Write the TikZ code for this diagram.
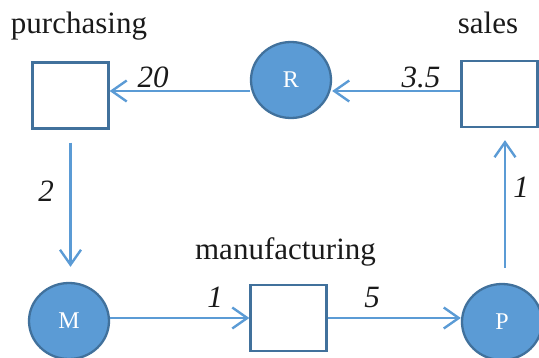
\documentclass[tikz,border=0pt]{standalone}
\usepackage{fontspec}
\setmainfont{Liberation Serif}
\newfontfamily\numfont{LiberationSerif-Italic.ttf}
\usetikzlibrary{arrows.meta,shapes.geometric}
\definecolor{fillb}{HTML}{5B9BD5}
\definecolor{edgeb}{HTML}{41719C}
\definecolor{txt}{HTML}{1A1A1A}
\begin{document}
\begin{tikzpicture}[x=1pt,y=-1pt,
 box/.style={draw=edgeb,line width=2.3pt,minimum width=76pt,minimum height=66pt,inner sep=0pt,fill=white},
 proc/.style={ellipse,draw=edgeb,fill=fillb,line width=2.3pt,minimum width=80pt,minimum height=76pt,inner sep=0pt,text=white,font=\fontsize{24}{24}\selectfont},
 flow/.style={draw=fillb,line width=2.4pt,-{Straight Barb[length=15pt,width=21pt,line width=2.4pt]}},
 lab/.style={anchor=base,text=txt,inner sep=0pt,font=\fontsize{31}{31}\selectfont},
 num/.style={anchor=base,text=txt,inner sep=0pt,font=\fontsize{31}{31}\numfont}]
\useasboundingbox (0,0) rectangle (539,358);
% nodes
\node[box] (purch) at (70.5,95.5) {};
\node[box] (sales) at (499.5,94) {};
\node[box] (mfg) at (288.5,318) {};
\node[proc] (R) at (291,80) {R};
\node[proc] (M) at (69,321) {M};
\node[proc] (P) at (502,322) {P};
% titles
\node[lab] (tp) at (79,34) {purchasing};
\node[lab] (ts) at (488,34) {sales};
\node[lab] (tm) at (285.5,260) {manufacturing};
% connectors
\draw[flow] (sales.west |- 0,91) -- (R.east |- 0,91);
\draw[flow] (R.west |- 0,91) -- (purch.east |- 0,91);
\draw[flow,shorten <=13pt,shorten >=15pt] (purch.south) -- (purch.south |- M.north);
\draw[flow] (M.east |- mfg.west) -- (mfg.west);
\draw[flow] (mfg.east) -- (P.west |- mfg.east);
\draw[flow,shorten <=15pt,shorten >=12pt] ([xshift=3pt]P.north) -- ([xshift=3pt]P.north |- sales.south);
% flow values
\node[num] (n20) at (153,88) {20};
\node[num] (n35) at (421,88) {3.5};
\node[num] (n2) at (46,202) {2};
\node[num] (n1r) at (521,198) {1};
\node[num] (n1l) at (215,308) {1};
\node[num] (n5) at (372,308) {5};
\end{tikzpicture}
\end{document}
